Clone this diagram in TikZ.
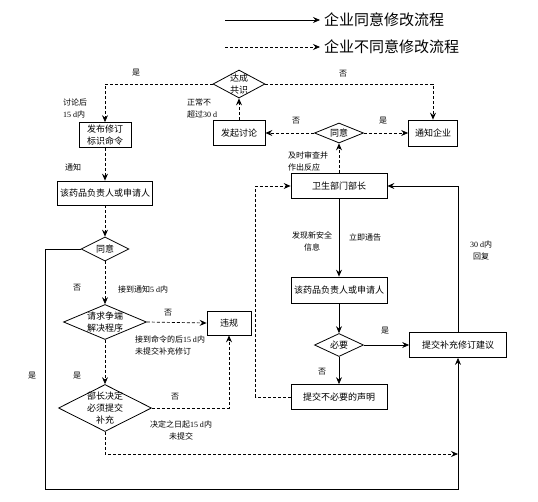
\documentclass[tikz,border=0pt]{standalone}
\usepackage{fontspec}
\setmainfont{Liberation Serif}
\newfontfamily\cjk{Noto Sans CJK SC}
\newcommand\rmn[1]{{\rmfamily #1}}
\usetikzlibrary{shapes.geometric,arrows.meta}
\begin{document}
\begin{tikzpicture}[x=1pt,y=-1pt,
 box/.style={draw, line width=0.8pt, inner sep=0pt, align=center, font=\cjk\fontsize{9}{12}\selectfont},
 dia/.style={draw, diamond, line width=0.8pt, inner sep=0pt},
 dtext/.style={align=center, inner sep=0pt, font=\cjk\fontsize{9}{12}\selectfont},
 lab/.style={font=\cjk\fontsize{8}{12}\selectfont, align=center, inner sep=0pt},
 leg/.style={font=\cjk\fontsize{15}{18}\selectfont, anchor=west, inner sep=0pt},
 conn/.style={line width=0.7pt},
 solidarrow/.style={conn, -{Stealth[length=7pt,width=6pt,inset=2.5pt]}},
 dasharrow/.style={solidarrow, dash pattern=on 3pt off 2pt},
]
\useasboundingbox (0,0) rectangle (538,501);
% legend
\coordinate (l1a) at (225,20);
\coordinate (l1b) at (320,20);
\coordinate (l2a) at (225,47);
\coordinate (l2b) at (320,47);
\node[leg] (l1t) at (324,20) {企业同意修改流程};
\node[leg] (l2t) at (324,47) {企业不同意修改流程};
\draw[solidarrow] (l1a) -- (l1b);
\draw[dasharrow] (l2a) -- (l2b);

% nodes
\node[dia, minimum width=52, minimum height=28,
  label={[dtext]center:达成\\共识}] (dc) at (239,84) {};
\node[box, minimum width=52, minimum height=25] (fb) at (105,135) {发布修订\\标识命令};
\node[box, minimum width=49, minimum height=26] (tz) at (433,133) {通知企业};
\node[dia, minimum width=49, minimum height=20,
  label={[dtext]center:同意}] (ty1) at (339,133) {};
\node[box, minimum width=52, minimum height=25] (fq) at (239,133) {发起讨论};
\node[box, minimum width=96, minimum height=25] (ws) at (339,186) {卫生部门部长};
\node[box, minimum width=96, minimum height=26] (fz2) at (339,290) {该药品负责人或申请人};
\node[dia, minimum width=49, minimum height=23,
  label={[dtext]center:必要}] (by) at (339,345) {};
\node[box, minimum width=97, minimum height=25] (tj) at (458,345) {提交补充修订建议};
\node[box, minimum width=96, minimum height=25] (bb) at (339,397) {提交不必要的声明};
\node[box, minimum width=95, minimum height=24] (fz1) at (105,193) {该药品负责人或申请人};
\node[dia, minimum width=48, minimum height=24,
  label={[dtext]center:同意}] (ty2) at (105,249) {};
\node[dia, minimum width=83, minimum height=35,
  label={[dtext]center:请求争端\\解决程序}] (qq) at (105,322) {};
\node[box, minimum width=44, minimum height=24] (wg) at (229,323) {违规};
\node[dia, minimum width=93, minimum height=47,
  label={[dtext]center:部长决定\\必须提交\\补充}] (bz) at (105,408) {};

\coordinate (bl) at (45,489);
\coordinate (mj) at (458,454);

% connectors
\draw[dasharrow] (dc.west) -| (fb.north);
\draw[dasharrow] (dc.east) -| (tz.north);
\draw[dasharrow] (fq.north) -- (dc.south);
\draw[dasharrow] (ty1.west) -- (fq.east);
\draw[dasharrow] (ty1.east) -- (tz.west);
\draw[dasharrow] (ws.north) -- (ty1.south);
\draw[solidarrow] (ws.south) -- (fz2.north);
\draw[solidarrow] (fz2.south) -- (by.north);
\draw[solidarrow] (by.east) -- (tj.west);
\draw[solidarrow] (by.south) -- (bb.north);
\draw[dasharrow] (bb.west) -- ++(-35,0) |- (ws.west);
\draw[solidarrow] (tj.north) |- (ws.east);
\draw[dasharrow] (fb.south) -- (fz1.north);
\draw[dasharrow] (fz1.south) -- (ty2.north);
\draw[solidarrow] (ty2.west) -| (bl) -| (tj.south);
\draw[dasharrow] (ty2.south) -- (qq.north);
\draw[dasharrow] (qq.east) -- (wg.west);
\draw[dasharrow] (qq.south) -- (bz.north);
\draw[dasharrow] (bz.east) -| (wg.south);
\draw[dasharrow] (bz.south) |- (mj);

% labels
\node[lab] (a1) at (136,73) {是};
\node[lab] (a2) at (343,74) {否};
\node[lab, align=left] (a3) at (75,108) {讨论后\\\rmn{15 d}内};
\node[lab, align=left] (a4) at (202,108) {正常不\\超过\rmn{30 d}};
\node[lab] (a5) at (296,121) {否};
\node[lab] (a6) at (383,121) {是};
\node[lab, align=left] (a7) at (308,161) {及时审查并\\作出反应};
\node[lab] (a8) at (73,167) {通知};
\node[lab] (a9) at (312,241) {发现新安全\\信息};
\node[lab] (a10) at (365,237) {立即通告};
\node[lab] (a11) at (481,250) {\rmn{30 d}内\\回复};
\node[lab] (a12) at (385,331) {是};
\node[lab] (a13) at (322,372) {否};
\node[lab] (a14) at (77,288) {否};
\node[lab] (a15) at (143,289) {接到通知\rmn{5 d}内};
\node[lab] (a16) at (168,313) {否};
\node[lab, align=left] (a17) at (170,345) {接到命令的后\rmn{15 d}内\\未提交补充修订};
\node[lab] (a18) at (32,376) {是};
\node[lab] (a19) at (77,376) {是};
\node[lab] (a20) at (175,397) {否};
\node[lab] (a21) at (181,430) {决定之日起\rmn{15 d}内\\未提交};
\end{tikzpicture}
\end{document}
